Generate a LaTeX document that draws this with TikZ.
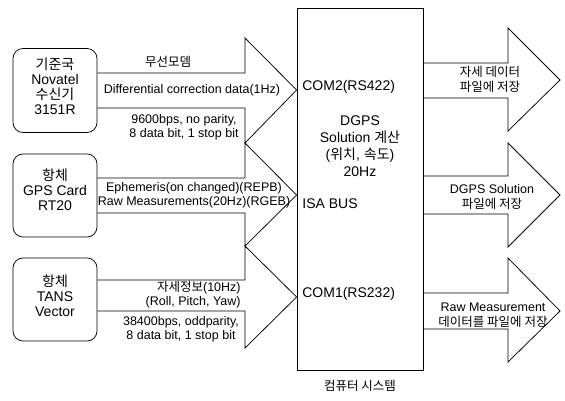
\documentclass[tikz,border=0pt]{standalone}
\usepackage{fontspec}
\setmainfont{Liberation Sans}
\newfontfamily\kr{Noto Sans CJK KR}
\begin{document}
\begin{tikzpicture}[x=1pt,y=-1pt,line width=0.75pt,
  srcbox/.style={draw,rounded corners=10pt,minimum width=84pt,minimum height=84pt,inner sep=0pt},
  srctext/.style={align=center,inner sep=0pt,font=\fontsize{14}{15}\selectfont},
  lbl/.style={align=center,inner sep=0pt,font=\fontsize{12.5}{14}\selectfont},
  lblr/.style={align=right,inner sep=0pt,font=\fontsize{12.5}{14}\selectfont},
  comptext/.style={inner sep=0pt,font=\fontsize{14}{17}\selectfont},
  outlbl/.style={align=center,inner sep=0pt,font=\fontsize{12.5}{15}\selectfont},
  bigarrow/.style={draw,line join=miter}]
\useasboundingbox (0,0) rectangle (565,400);

% source boxes
\node[srcbox] (b1) at (55,90.5) {};
\node[srcbox,minimum height=83pt] (b2) at (55,195.5) {};
\node[srcbox,minimum height=83pt] (b3) at (55,299.5) {};
\node[srctext] (b1t) at (55,86) {{\kr 기준국}\\Novatel\\{\kr 수신기}\\3151R};
\node[srctext] (b2t) at (55,190) {{\kr 항체}\\GPS Card\\RT20};
\node[srctext] (b3t) at (55,296) {{\kr 항체}\\TANS\\Vector};

% computer box
\node[draw,minimum width=126pt,minimum height=362pt,inner sep=0pt] (comp) at (360,189) {};

% input arrows
\draw[bigarrow] (b1.east |- 0,73) -- (245,73) -- (245,38) -- (comp.west |- 0,90) -- (245,143) -- (245,108) -- (b1.east |- 0,108);
\draw[bigarrow] (b2.east |- 0,178) -- (245,178) -- (245,143) -- (comp.west |- 0,195) -- (245,246) -- (245,213) -- (b2.east |- 0,213);
\draw[bigarrow] (b3.east |- 0,280) -- (245,280) -- (245,246) -- (comp.west |- 0,297) -- (245,348) -- (245,311) -- (b3.east |- 0,311);

% output arrows
\draw[bigarrow] (comp.east |- 0,63) -- (508,63) -- (508,28) -- (560,80) -- (508,131) -- (508,98) -- (comp.east |- 0,98);
\draw[bigarrow] (comp.east |- 0,176) -- (508,176) -- (508,143) -- (560,195) -- (508,247) -- (508,214) -- (comp.east |- 0,214);
\draw[bigarrow] (comp.east |- 0,293) -- (508,293) -- (508,258) -- (560,311) -- (508,362) -- (508,329) -- (comp.east |- 0,329);

% input labels
\node[lbl] (l1a) at (168,62) {\kr 무선모뎀};
\node[lbl] (l1b) at (192,90) {Differential correction data(1Hz)};
\node[lbl] (l1c) at (184,127) {9600bps, no parity,\\8 data bit, 1 stop bit};
\node[lbl] (l2) at (194,195) {Ephemeris(on changed)(REPB)\\Raw Measurements(20Hz)(RGEB)};
\node[lblr,anchor=east] (l3a) at (241,295) {{\kr 자세정보}(10Hz)\\(Roll, Pitch, Yaw)};
\node[lbl] (l3b) at (181,329) {38400bps, oddparity,\\8 data bit, 1 stop bit};

% computer texts
\node[comptext,anchor=west] (com2) at (302,87) {COM2(RS422)};
\node[comptext,align=center] (dgps) at (360,146) {DGPS\\Solution {\kr 계산}\\({\kr 위치}, {\kr 속도})\\20Hz};
\node[comptext,anchor=west] (isa) at (302,204) {ISA BUS};
\node[comptext,anchor=west] (com1) at (302,294) {COM1(RS232)};
\node[outlbl] (sys) at (360,386) {\kr 컴퓨터 시스템};

% output labels
\node[outlbl] (o1) at (490,79) {\kr 자세 데이터\\\kr 파일에 저장};
\node[outlbl] (o2) at (492,197) {DGPS Solution\\{\kr 파일에 저장}};
\node[outlbl] (o3) at (493,315) {Raw Measurement\\{\kr 데이터를 파일에 저장}};
\end{tikzpicture}
\end{document}
